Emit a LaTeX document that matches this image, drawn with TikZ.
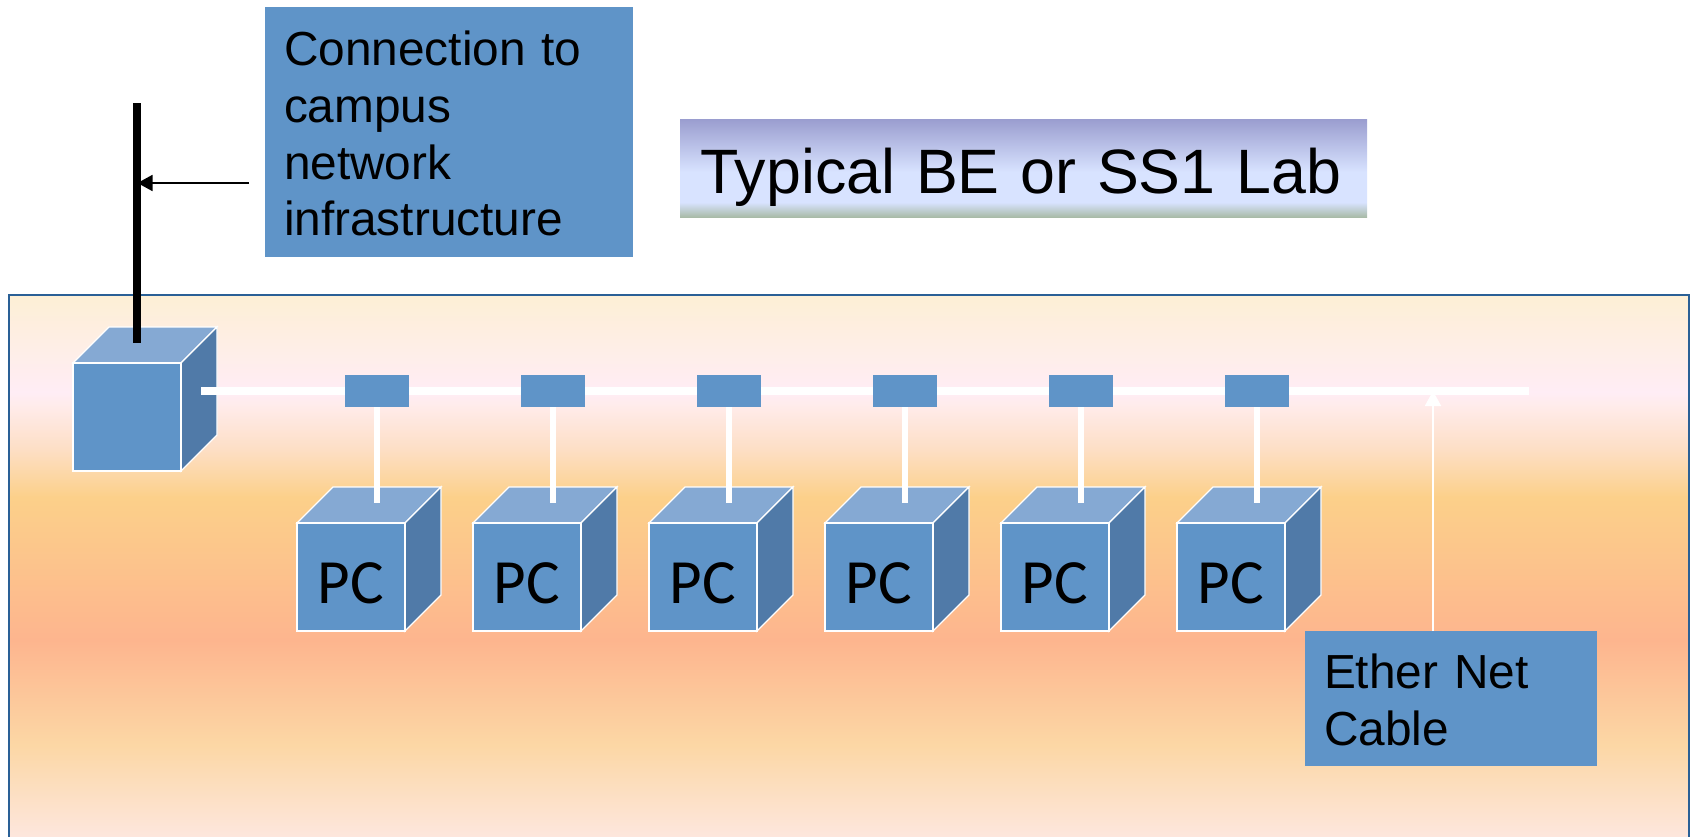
\documentclass[tikz,border=0pt]{standalone}
\usepackage{fontspec}
\setmainfont{Liberation Sans}
\newfontfamily\pcfont{Carlito}
\usetikzlibrary{calc, shapes, arrows.meta}
\definecolor{boxblue}{HTML}{5F94C8}
\definecolor{facetop}{HTML}{85A9D3}
\definecolor{faceside}{HTML}{507AA8}
\definecolor{labedge}{HTML}{2A6096}
\pgfdeclareverticalshading{labshade}{100bp}{
rgb(0bp)=(0.992,0.906,0.875);
rgb(25bp)=(0.992,0.906,0.875);
rgb(33.7bp)=(0.988,0.843,0.647);
rgb(43.35bp)=(0.992,0.710,0.557);
rgb(56.45bp)=(0.988,0.816,0.541);
rgb(61bp)=(0.992,0.875,0.780);
rgb(65bp)=(1,0.925,0.925);
rgb(66.1bp)=(1,0.929,0.961);
rgb(75bp)=(0.992,0.937,0.835);
rgb(100bp)=(0.992,0.937,0.835)}
\pgfdeclareverticalshading{titleshade}{100bp}{
rgb(0bp)=(0.663,0.733,0.659);
rgb(25bp)=(0.663,0.733,0.659);
rgb(32.5bp)=(0.847,0.890,1);
rgb(48bp)=(0.847,0.890,1);
rgb(75bp)=(0.604,0.616,0.812);
rgb(100bp)=(0.604,0.616,0.812)}

\begin{document}
\begin{tikzpicture}[x=1pt,y=-1pt]
\tikzstyle{line} = [draw, -{Triangle[length=15pt,width=16pt]}]
\tikzstyle{cable}=[draw=white,line width=8pt]
\tikzstyle{drop}=[draw=white,line width=6pt]
\tikzstyle{tap}=[rectangle,fill=boxblue,minimum width=64pt,minimum height=32pt,inner sep=0pt]
\tikzstyle{label}=[rectangle,fill=boxblue,inner xsep=19pt,inner ysep=0pt,align=left,font=\fontsize{47.8}{56.7}\selectfont]
\tikzstyle{cube}=[rectangle,fill=boxblue,draw=white,line width=1.3pt,minimum size=108pt,inner sep=0pt,outer sep=0pt,
  text height=52pt,text depth=0pt,font=\pcfont\fontsize{63}{63}\selectfont,
  append after command={\pgfextra{
    \draw[fill=facetop,draw=white,line width=1.3pt] (\tikzlastnode.north west) -- ++(36,-36) -- ++(108,0) -- (\tikzlastnode.north east) -- cycle;
    \draw[fill=faceside,draw=white,line width=1.3pt] (\tikzlastnode.north east) -- ++(36,-36) -- ++(0,108) -- (\tikzlastnode.south east) -- cycle;
  }}]
\useasboundingbox (0,0) rectangle (1694,836);
\node[rectangle,draw=labedge,line width=1.3pt,shade,shading=labshade,minimum width=1680pt,minimum height=545pt,inner sep=0pt] (LAB) at (849,567.5) {};
\node[rectangle,shade,shading=titleshade,minimum width=687pt,minimum height=98pt,inner xsep=20pt,inner ysep=0pt,text width=647pt,align=left,text height=50pt,text depth=0pt,font=\fontsize{62.7}{70}\selectfont] (TITLE) at (1023.5,168) {Typical BE or SS1 Lab};
\node[cube] (SW) at (127,417) {};
\node[cube] (PC_1) at (351,577) {PC};
\node[cube] (PC_2) at (527,577) {PC};
\node[cube] (PC_3) at (703,577) {PC};
\node[cube] (PC_4) at (879,577) {PC};
\node[cube] (PC_5) at (1055,577) {PC};
\node[cube] (PC_6) at (1231,577) {PC};
\coordinate (MAST_0) at (137,103);
\coordinate (MAST_1) at (137,343);
\coordinate (MAST_2) at (137.5,183);
\coordinate (BUS_0) at (201,391);
\coordinate (BUS_1) at (1529,391);
\coordinate (BUS_2) at (1433,391);
\coordinate (ARROW_0) at (249,183);
\coordinate (D_1) at (377,503);
\coordinate (D_2) at (553,503);
\coordinate (D_3) at (729,503);
\coordinate (D_4) at (905,503);
\coordinate (D_5) at (1081,503);
\coordinate (D_6) at (1257,503);
\draw[line width=8pt] (MAST_0) -- (MAST_1);
\path [cable] (BUS_0) -- (BUS_1);
\node[tap] (T_1) at (377,391) {};
\node[tap] (T_2) at (553,391) {};
\node[tap] (T_3) at (729,391) {};
\node[tap] (T_4) at (905,391) {};
\node[tap] (T_5) at (1081,391) {};
\node[tap] (T_6) at (1257,391) {};
\path [drop] (T_1.south) -- (D_1);
\path [drop] (T_2.south) -- (D_2);
\path [drop] (T_3.south) -- (D_3);
\path [drop] (T_4.south) -- (D_4);
\path [drop] (T_5.south) -- (D_5);
\path [drop] (T_6.south) -- (D_6);
\node[label,text width=330pt,minimum height=250pt] (CAMPUS) at (449,132) {\rule{0pt}{38pt}Connection to\\campus\\network\\infrastructure};
\node[label,text width=254pt,minimum height=135pt] (ETHER) at (1451,698.5) {\rule{0pt}{38pt}Ether Net\\Cable};
\path [line,line width=1.7pt] (ARROW_0) -- (MAST_2);
\path [line,draw=white,fill=white,line width=2pt] (BUS_2 |- ETHER.north) -- (BUS_2);
\end{tikzpicture}
\end{document}
